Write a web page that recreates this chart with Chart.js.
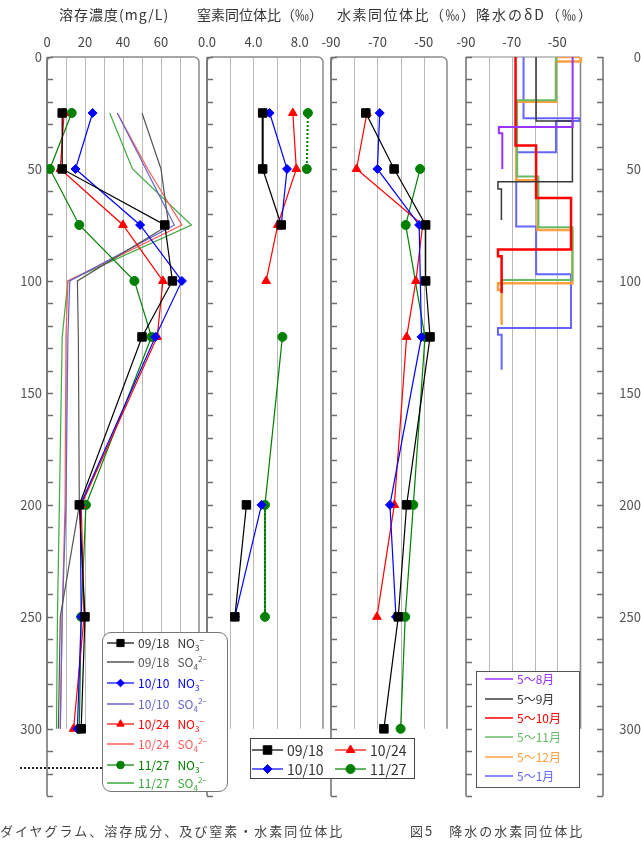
<!DOCTYPE html>
<html lang="ja">
<head>
<meta charset="utf-8">
<title>溶存成分・同位体比の深度分布</title>
<script src="https://cdn.jsdelivr.net/npm/chart.js@4.4.1/dist/chart.umd.min.js"></script>
<style>
  body { margin: 0; background: #fff; }
  #page { position: relative; width: 641px; height: 847px; overflow: hidden; font-family: "Noto Sans CJK JP", "Noto Sans", sans-serif; }
  #page > canvas { position: absolute; left: 0; top: 0; }
  .title { position: absolute; top: 6px; font-size: 14px; line-height: 17px; color: #333; white-space: nowrap; }
  .legend { position: absolute; background: #fff; box-sizing: border-box; }
  .legend .row { position: absolute; height: 16px; line-height: 16px; white-space: nowrap; }
  .legend .row canvas { vertical-align: top; margin-right: 4px; }
  .legend sub, .legend sup { font-size: 8px; line-height: 0; }
  .caption { position: absolute; top: 822px; font-size: 13px; line-height: 18px; color: #444; letter-spacing: 2px; white-space: nowrap; }
  .stray { position: absolute; left: 20px; top: 767px; width: 82px; border-top: 2px dotted #222; }
</style>
</head>
<body>
<div id="page">
  <canvas id="c1" width="641" height="847"></canvas>
  <canvas id="c2" width="641" height="847"></canvas>
  <canvas id="c3" width="641" height="847"></canvas>
  <canvas id="c4" width="641" height="847"></canvas>
  <div class="title" style="left:59px;letter-spacing:1px">溶存濃度(mg/L)</div>
  <div class="title" style="left:197px">窒素同位体比（‰）</div>
  <div class="title" style="left:337px;letter-spacing:1.5px">水素同位体比（‰）</div>
  <div class="title" style="left:476px;letter-spacing:2px">降水のδD（‰）</div>
  <div class="stray"></div>
  <div class="caption" style="left:0px">ダイヤグラム、溶存成分、及び窒素・水素同位体比</div>
  <div class="caption" style="left:410px">図5　降水の水素同位体比</div>
</div>
<script>
// 採水深度 (cm)
const depths = [25, 50, 75, 100, 125, 200, 250, 300];
const dates = ["09/18", "10/10", "10/24", "11/27"];

// 溶存濃度 NO3- (mg/L)
const no3_0918 = [8, 8, 62, 66, 50, 17, 20, 18];
const no3_1010 = [24, 15, 49, 71, 57, 17.5, 18, 16];
const no3_1024 = [9, 7, 40, 61, 58, 18, 19.5, 14];
const no3_1127 = [13, 1.5, 17, 46, 55, 20.5, 18, 17];
// 溶存濃度 SO4 2- (mg/L)
const so4_0918 = [50, 60, 64, 16, 16.5, 17, 7, 6];
const so4_1010 = [37, 52, 67, 12, 11, 10, 8, 7];
const so4_1024 = [37, 53, 71, 11, 10, 9.5, 8, 7];
const so4_1127 = [33, 45, 76, 11, 8, 6.5, 5.5, 5];

// 窒素同位体比 (‰)
const d15n_0918 = [4.8, 4.8, 6.4, null, null, 3.4, 2.4, null];
const d15n_1010 = [5.4, 6.9, 6.4, null, null, 4.7, 2.4, null];
const d15n_1024 = [7.4, 7.7, 6.1, 5.1, null, null, null, null];
const d15n_1127 = [8.7, 8.6, null, null, 6.5, 5.0, 5.0, null];

// 水素同位体比 (‰)
const dD_0918 = [-75, -62.8, -49.2, -49.2, -47.3, -57.4, -61, -67.2];
const dD_1010 = [-69, -70, -52, null, -51, -64.6, -62, null];
const dD_1024 = [-74.5, -79, -50.5, -53.4, -57.4, -62.7, -70.2, null];
const dD_1127 = [null, -51.6, -57.8, null, -49.5, -54.5, -58, -60];

// 降水のδD 累積（階段状）: 値と深度
const rainLabels = ["5～8月", "5～9月", "5～10月", "5～11月", "5～12月", "5～1月"];
const rain58_v = [-43.3, -43.3, -75.6, -75.6, -74.1, -74.1];
const rain58_d = [0, 31.3, 31.3, 34, 34, 50];
const rain59_v = [-59.3, -59.3, -43.4, -43.4, -76, -76, -74.5, -74.5];
const rain59_d = [0, 28.6, 28.6, 55.7, 55.7, 59, 59, 72.8];
const rain510_v = [-68.3, -68.3, -59.3, -59.3, -44, -44, -76, -76, -74.4, -74.4];
const rain510_d = [0, 39.5, 39.5, 63, 63, 86, 86, 89, 89, 105.4];
const rain511_v = [-50.6, -50.6, -67.6, -67.6, -58.3, -58.3, -43.4, -43.4, -74.4, -74.4];
const rain511_d = [0, 19.3, 19.3, 53.4, 53.4, 76, 76, 99.6, 99.6, 104];
const rain512_v = [-50.6, -39.7, -39.7, -50.6, -50.6, -68, -68, -58.7, -58.7, -43.4, -43.4, -76, -76, -74.4, -74.4];
const rain512_d = [0, 0, 2, 2, 20, 20, 55, 55, 77.2, 77.2, 101, 101, 104, 104, 119.6];
const rain51_v = [-64.8, -64.8, -40.4, -40.4, -50.6, -50.6, -68, -68, -59.3, -59.3, -44, -44, -76, -76, -74.4, -74.4];
const rain51_d = [0, 27.3, 27.3, 28.6, 28.6, 42.5, 42.5, 75.7, 75.7, 97, 97, 121, 121, 124, 124, 139.7];

const FONT = '"Noto Sans CJK JP", "Noto Sans", sans-serif';
const colors = ["#000000", "#0000ff", "#ff0000", "#008000"];
const so4Colors = ["#555555", "#6464c8", "#ff5a5a", "#3caa3c"];
const markers = ["rect", "rectRot", "triangle", "circle"];
const markerSize = [6, 4.5, 5, 4.5];
const rainColors = ["#9933ff", "#3a3a3a", "#ff0000", "#66bb66", "#ffa040", "#6666ff"];
const rainWidths = [2, 1.5, 2.5, 2, 2.5, 2];

Chart.defaults.font.family = FONT;
Chart.defaults.animation = false;

function pts(vals, ds) {
  return vals.map((v, i) => ({ x: v, y: ds[i] }));
}

// 枠・目盛り線・深度目盛りを描く
const decor = {
  id: "decor",
  beforeDatasetsDraw(chart, args, o) {
    const ctx = chart.ctx, x = chart.scales.x, y = chart.scales.y;
    const top = y.getPixelForValue(0), bot = y.getPixelForValue(300), end = y.getPixelForValue(330);
    const L = x.getPixelForValue(x.min), R = x.getPixelForValue(x.max);
    ctx.save();
    ctx.lineWidth = 1;
    for (const t of x.ticks) {
      if (t.value === x.min || t.value === x.max) continue;
      const px = Math.round(x.getPixelForValue(t.value)) + 0.5;
      const strong = o.open && t.value === -40;
      ctx.strokeStyle = strong ? "#8a8a8a" : "#b8b8b8";
      ctx.lineWidth = strong ? 1.6 : 1;
      ctx.beginPath(); ctx.moveTo(px, top); ctx.lineTo(px, bot); ctx.stroke();
    }
    ctx.lineWidth = 1.5;
    if (!o.open) {
      const r = 5;
      ctx.strokeStyle = "#8c8c8c";
      ctx.beginPath();
      ctx.moveTo(L, bot); ctx.lineTo(L, top + r);
      ctx.arcTo(L, top, L + r, top, r);
      ctx.lineTo(R - r, top);
      ctx.arcTo(R, top, R, top + r, r);
      ctx.lineTo(R, bot);
      ctx.stroke();
    } else {
      ctx.strokeStyle = "#b0b0b0";
      ctx.beginPath(); ctx.moveTo(L, top); ctx.lineTo(x.getPixelForValue(-40), top); ctx.stroke();
    }
    // 深度軸
    const axes = o.open ? [[L, 1], [R, -1]] : [[L, 1]];
    ctx.strokeStyle = "#6e6e6e";
    for (const [ax, dir] of axes) {
      ctx.beginPath(); ctx.moveTo(ax, top); ctx.lineTo(ax, end); ctx.stroke();
      for (let d = 0; d <= 330; d += 10) {
        const py = Math.round(y.getPixelForValue(d)) + 0.5;
        ctx.beginPath(); ctx.moveTo(ax, py); ctx.lineTo(ax + dir * 6, py); ctx.stroke();
      }
    }
    ctx.restore();
  }
};

function xScale(min, max, step, labels, fmt) {
  return {
    type: "linear", position: "top", min: min, max: max,
    grid: { display: false, drawTicks: false }, border: { display: false },
    ticks: {
      stepSize: step, autoSkip: false, maxRotation: 0, padding: 7, color: "#444",
      font: { size: 13 },
      callback: v => labels.includes(v) ? fmt(v) : ""
    },
    afterFit: s => { s.height = 57; s.paddingLeft = 0; s.paddingRight = 0; }
  };
}

function yScale(show, pos) {
  const s = {
    type: "linear", min: 0, max: 330, reverse: true, display: show, position: pos,
    grid: { display: false, drawTicks: false }, border: { display: false },
    ticks: {
      stepSize: 10, autoSkip: false, padding: 5, color: "#555", font: { size: 13 },
      crossAlign: pos === "right" ? "far" : "near",
      callback: v => (v % 50 === 0 && v <= 300) ? v : ""
    }
  };
  s.afterFit = sc => {
    sc.width = show ? (pos === "right" ? 38 : 47) : 0;
    sc.paddingTop = 0; sc.paddingBottom = 0;
  };
  return s;
}

function makeChart(id, datasets, xs, ys, padding, open) {
  return new Chart(document.getElementById(id), {
    type: "line",
    data: { datasets: datasets },
    options: {
      indexAxis: "y",
      responsive: false,
      events: [],
      layout: { padding: padding },
      scales: { x: xs, y: ys },
      plugins: { legend: { display: false }, tooltip: { enabled: false }, decor: { open: open } }
    },
    plugins: [decor]
  });
}

function markerSet(vals, k, extra) {
  return Object.assign({
    data: pts(vals, depths),
    borderColor: colors[k], backgroundColor: colors[k],
    borderWidth: 1.2, pointStyle: markers[k], pointRadius: markerSize[k],
    pointBorderWidth: 1, pointBackgroundColor: colors[k], pointBorderColor: colors[k]
  }, extra || {});
}

function dotted(idx) {
  return {
    borderDash: ctx => idx.includes(ctx.p0DataIndex) ? [2, 2] : undefined,
    borderWidth: ctx => idx.includes(ctx.p0DataIndex) ? 2 : undefined
  };
}

// 1. 溶存濃度
const no3 = [no3_0918, no3_1010, no3_1024, no3_1127];
const so4 = [so4_0918, so4_1010, so4_1024, so4_1127];
const set1 = no3.map((v, k) => markerSet(v, k));
so4.forEach((v, k) => set1.push({
  data: pts(v, depths), borderColor: so4Colors[k], borderWidth: 1.2, pointRadius: 0
}));
makeChart("c1", set1,
  xScale(0, 80, 10, [0, 20, 40, 60], v => String(v)),
  yScale(true, "left"),
  { left: 0, right: 442, top: 0, bottom: 51 }, false);

// 2. 窒素同位体比
makeChart("c2", [
  markerSet(d15n_0918, 0, { segment: dotted([0]) }),
  markerSet(d15n_1010, 1),
  markerSet(d15n_1024, 2),
  markerSet(d15n_1127, 3, { segment: dotted([0, 5]) })
],
  xScale(0, 10, 2, [0, 4, 8], v => v.toFixed(1)),
  yScale(false, "left"),
  { left: 207, right: 318, top: 0, bottom: 51 }, false);

// 3. 水素同位体比
makeChart("c3", [
  markerSet(dD_0918, 0),
  markerSet(dD_1010, 1, { spanGaps: true }),
  markerSet(dD_1024, 2),
  markerSet(dD_1127, 3, { spanGaps: true })
],
  xScale(-90, -40, 10, [-90, -70, -50], v => String(v)),
  yScale(false, "left"),
  { left: 331, right: 194, top: 0, bottom: 51 }, false);

// 4. 降水のδD
const rainV = [rain58_v, rain59_v, rain510_v, rain511_v, rain512_v, rain51_v];
const rainD = [rain58_d, rain59_d, rain510_d, rain511_d, rain512_d, rain51_d];
const set4 = rainV.map((v, k) => ({
  data: pts(v, rainD[k]), borderColor: rainColors[k], borderWidth: rainWidths[k],
  pointRadius: 0, borderJoinStyle: "miter"
}));
makeChart("c4", set4,
  xScale(-90, -30, 10, [-90, -70, -50], v => String(v)),
  yScale(true, "right"),
  { left: 466, right: 0, top: 0, bottom: 51 }, true);

// 凡例
const page = document.getElementById("page");
function sample(w, lineColor, style, radius, fill) {
  const c = document.createElement("canvas");
  c.width = w; c.height = 16;
  const g = c.getContext("2d");
  g.strokeStyle = lineColor; g.lineWidth = style === null ? 1.5 : 1.2;
  g.beginPath(); g.moveTo(0, 8); g.lineTo(w, 8); g.stroke();
  if (style) {
    g.fillStyle = fill; g.strokeStyle = fill; g.lineWidth = 1;
    Chart.helpers.drawPoint(g, { pointStyle: style, radius: radius, borderWidth: 1, rotation: 0 }, w / 2, 8);
  }
  return c;
}
function box(left, top, w, h, css) {
  const b = document.createElement("div");
  b.className = "legend";
  b.style.cssText = `left:${left}px;top:${top}px;width:${w}px;height:${h}px;` + css;
  page.appendChild(b);
  return b;
}
function row(b, left, top, canvas, html, color, size) {
  const r = document.createElement("div");
  r.className = "row";
  r.style.cssText = `left:${left}px;top:${top}px;color:${color};font-size:${size}px;`;
  r.appendChild(canvas);
  const s = document.createElement("span");
  s.innerHTML = html;
  r.appendChild(s);
  b.appendChild(r);
}

// 溶存濃度の凡例
const lg1 = box(102, 632, 126, 160, "border:1.5px solid #777;border-radius:9px;");
const rows1 = [643, 662, 683, 704, 724, 744, 765, 783];
dates.forEach((d, k) => {
  row(lg1, 4, rows1[2 * k] - 632 - 9, sample(27, colors[k], markers[k], markerSize[k] * 0.85, colors[k]),
    `${d}&nbsp;&nbsp;&nbsp;NO<sub>3</sub><sup>−</sup>`, colors[k] === "#000000" ? "#333" : colors[k], 12);
  row(lg1, 4, rows1[2 * k + 1] - 632 - 9, sample(27, so4Colors[k], null, 0, null),
    `${d}&nbsp;&nbsp;&nbsp;SO<sub>4</sub><sup>2−</sup>`, so4Colors[k], 12);
});

// 同位体比の凡例
const lg2 = box(250, 738, 165, 41, "border:1.5px solid #444;");
const pos2 = [[1, 3], [84, 3], [1, 22], [84, 22]];
[0, 2, 1, 3].forEach((k, i) => {
  row(lg2, pos2[i][0], pos2[i][1], sample(31, colors[k], markers[k], markerSize[k], colors[k]),
    dates[k], "#333", 14);
});

// 降水の凡例
const lg3 = box(476, 671, 104, 117, "border:1.5px solid #555;");
const rows3 = [679, 699, 718, 737, 757, 776];
rainLabels.forEach((t, k) => {
  row(lg3, 8, rows3[k] - 671 - 9, sample(28, rainColors[k], null, 0, null), t,
    rainColors[k] === "#3a3a3a" ? "#333" : rainColors[k], 12);
});
</script>
</body>
</html>
